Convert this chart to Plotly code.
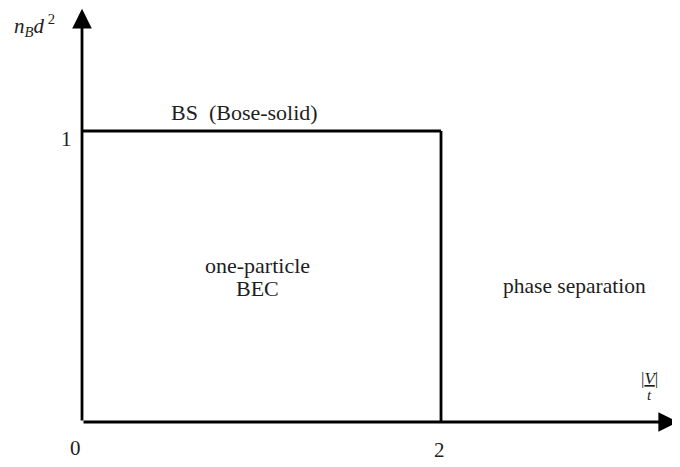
import plotly.graph_objects as go

# phase boundaries
bs_x = [0, 2]
bs_y = [1, 1]
sep_x = [2, 2]
sep_y = [0, 1]
x_ticks = [0, 2]
x_tick_labels = ["0", "2"]
y_ticks = [1]
y_tick_labels = ["1"]
x_max = 3.32
y_max = 1.42

FONT = "Liberation Serif"
TXT = "#1e1e1e"
fig = go.Figure()
fig.add_trace(go.Scatter(x=bs_x, y=bs_y, mode="lines",
                         line=dict(color="black", width=2.8), hoverinfo="skip"))
fig.add_trace(go.Scatter(x=sep_x, y=sep_y, mode="lines",
                         line=dict(color="black", width=2.8), hoverinfo="skip"))

# axes with arrows
fig.add_annotation(x=x_max, y=0, ax=0, ay=0, xref="x", yref="y", axref="x", ayref="y",
                   showarrow=True, arrowhead=2, arrowsize=1.4, arrowwidth=2.8,
                   arrowcolor="black", text="")
fig.add_annotation(x=0, y=y_max, ax=0, ay=0, xref="x", yref="y", axref="x", ayref="y",
                   showarrow=True, arrowhead=2, arrowsize=1.4, arrowwidth=2.8,
                   arrowcolor="black", text="")

fig.add_annotation(x=-0.039, y=-0.089, text=x_tick_labels[0], showarrow=False,
                   font=dict(family=FONT, size=21, color=TXT))
fig.add_annotation(x=x_ticks[1] - 0.01, y=-0.096, text=x_tick_labels[1], showarrow=False,
                   font=dict(family=FONT, size=21, color=TXT))
fig.add_annotation(x=-0.089, y=y_ticks[0] - 0.028, text=y_tick_labels[0], showarrow=False,
                   font=dict(family=FONT, size=21, color=TXT))

fig.add_annotation(x=0.9025, y=1.065, text="BS  (Bose-solid)", showarrow=False,
                   font=dict(family=FONT, size=22, color=TXT))
fig.add_annotation(x=0.975, y=0.5395, text="one-particle", showarrow=False,
                   font=dict(family=FONT, size=22, color=TXT))
fig.add_annotation(x=0.975, y=0.4605, text="BEC", showarrow=False,
                   font=dict(family=FONT, size=22, color=TXT))
fig.add_annotation(x=2.746, y=0.467, text="phase separation", showarrow=False,
                   font=dict(family=FONT, size=21.5, color=TXT))
fig.add_annotation(x=-0.262, y=1.362, text="<i>n<sub>B</sub>d</i><sup> 2</sup>", showarrow=False,
                   font=dict(family=FONT, size=21, color=TXT))
fig.add_annotation(x=3.164, y=0.150, text="<u>|<i>V</i>|</u>", showarrow=False,
                   font=dict(family=FONT, size=17, color=TXT))
fig.add_annotation(x=3.164, y=0.093, text="<i>t</i>", showarrow=False,
                   font=dict(family=FONT, size=15, color=TXT))

fig.update_xaxes(range=[-0.4123, 3.376], visible=False)
fig.update_yaxes(range=[-0.1821, 1.4227], visible=False)
fig.update_layout(width=680, height=467, margin=dict(l=0, r=0, t=0, b=0),
                  plot_bgcolor="white", paper_bgcolor="white", showlegend=False)
fig.write_html("out.html")
